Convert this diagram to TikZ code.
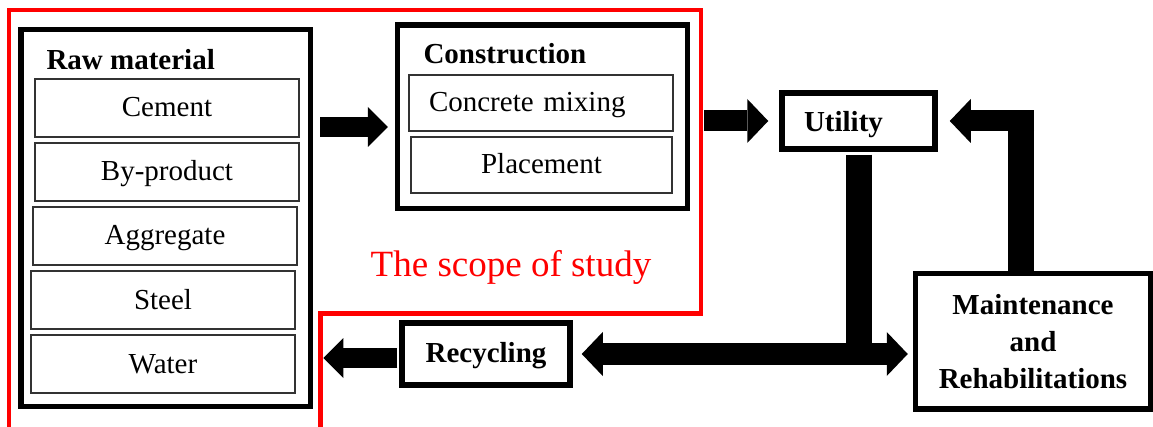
\documentclass[tikz,border=0pt]{standalone}
\usepackage{fontspec}
\setmainfont{Liberation Serif}
\usetikzlibrary{arrows.meta}

\begin{document}
\begin{tikzpicture}[x=1pt, y=-1pt,
    every node/.style={font=\fontsize{29}{37}\selectfont},
    >={Triangle[length=21pt, width=44pt, line width=0pt]},
    box/.style={draw, line width=5.5pt, inner sep=0pt},
    item/.style={draw=black!80, line width=1.2pt, inner sep=0pt, minimum width=264pt,
        minimum height=58pt, text height=21pt, text depth=3pt},
    title/.style={anchor=base west, font=\fontsize{29}{37}\selectfont\bfseries},
    flow/.style={line width=21pt, ->},
    smallflow/.style={line width=20pt, -{Triangle[length=20pt, width=40pt, line width=0pt]}},
    stem/.style={line width=26pt}]
    \useasboundingbox (0,0) rectangle (1153,427);

    % scope of study
    \draw[red, line width=4.5pt] (320.5,427) -- (320.5,313.5) -- (701,313.5) -- (701,10)
        -- (9,10) -- (9,427);
    \node[red, anchor=base, font=\fontsize{37}{44}\selectfont] (scope) at (511,277) {The scope of study};

    % raw material
    \node[box, minimum width=289.5pt, minimum height=377pt] (raw) at (165.75,218) {};
    \node[title] (rawtitle) at (43,70) {Raw material};
    \node[item] (cement) at (167,108) {Cement};
    \node[item] (byprod) at (167,172) {By-product};
    \node[item] (aggr) at (165,236) {Aggregate};
    \node[item] (steel) at (163,300) {Steel};
    \node[item] (water) at (163,364) {Water};

    % construction
    \node[box, minimum width=290pt, minimum height=183.5pt] (cons) at (542.5,116.75) {};
    \node[title] (constitle) at (420,64) {Construction};
    \node[item, minimum height=56pt, inner xsep=20pt, text width=224pt, align=left] (mixing)
        at (541,103) {Concrete mixing};
    \node[item, minimum width=261pt, minimum height=56pt] (place) at (541.5,165) {Placement};

    % life cycle
    \node[box, font=\fontsize{29}{37}\selectfont\bfseries, minimum height=56pt, inner xsep=22pt,
        text width=109pt, align=left, text height=22pt, text depth=0pt] (util) at (858.5,121) {Utility};
    \node[box, font=\fontsize{29}{37}\selectfont\bfseries, minimum width=235pt, minimum height=135.5pt,
        align=center] (maint) at (1033,341.25) {Maintenance\\and\\Rehabilitations};
    \node[box, font=\fontsize{29}{37}\selectfont\bfseries, minimum width=168pt, minimum height=62pt,
        text height=21pt, text depth=5pt] (rec) at (486,354) {Recycling};

    % flows
    \draw[smallflow, shorten <=7pt, shorten >=7pt] (raw.east |- 0,127) -- (cons.west |- 0,127);
    \draw[flow, shorten <=14pt, shorten >=11pt] (cons.east |- util.west) -- (util.west);
    \coordinate (turn) at (1021,111);
    \coordinate (corner) at (1034,121);
    \draw[stem] (maint.north -| turn) -- (turn);
    \draw[flow, shorten >=12pt] (corner) -- (util.east);
    \draw[stem, shorten <=3pt] (util.south) -- (util.south |- rec.east);
    \draw[line width=22pt, <->, shorten <=9pt, shorten >=5pt] (rec.east) -- (rec.east -| maint.west);
    \draw[smallflow, shorten <=2pt, shorten >=10pt] ([yshift=-4pt]rec.west) -- ([yshift=-4pt]rec.west -| raw.east);
\end{tikzpicture}
\end{document}
